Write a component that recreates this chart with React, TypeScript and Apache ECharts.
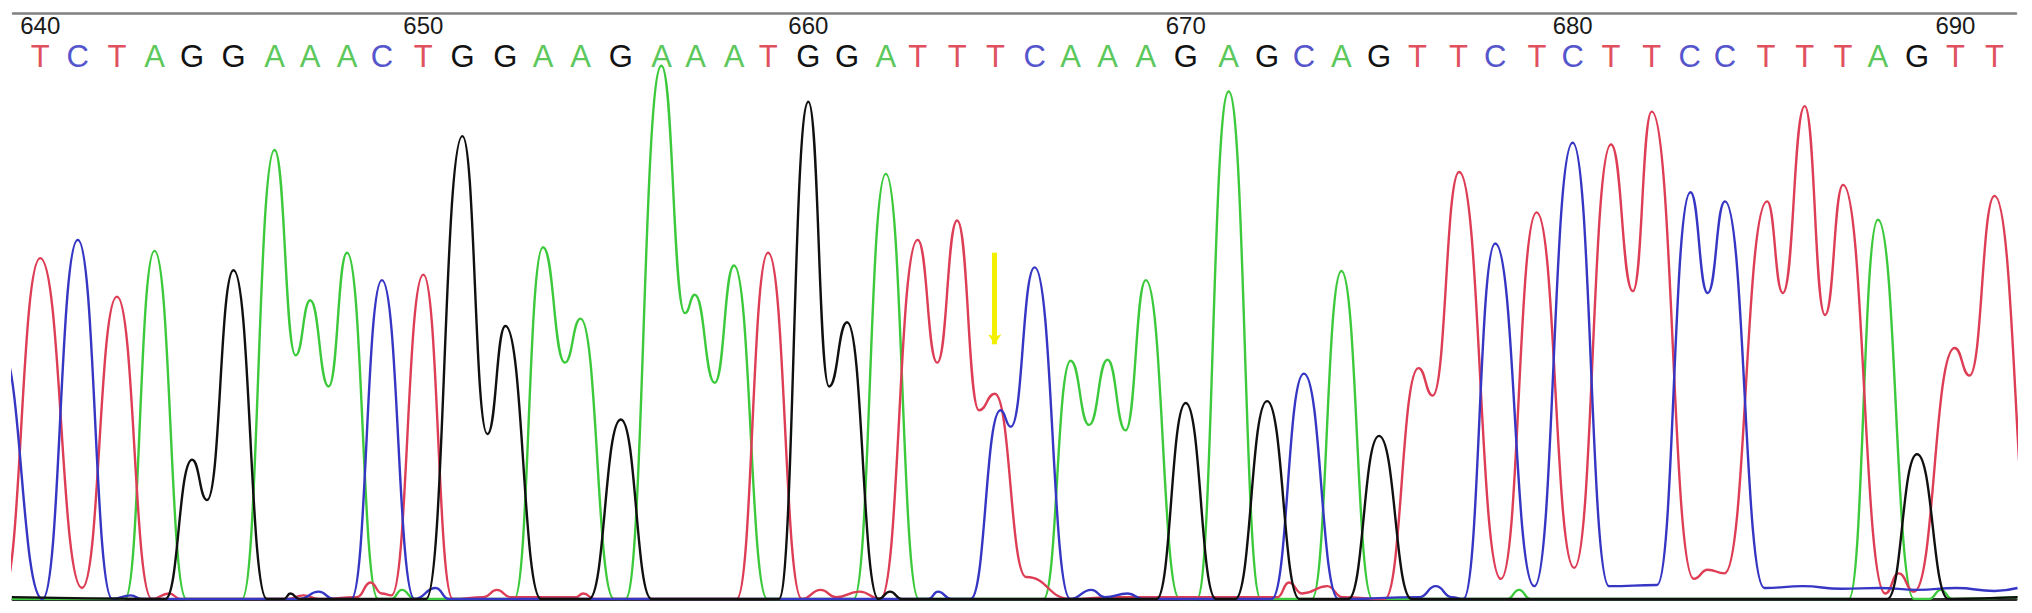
import React, { useEffect, useRef } from 'react';
import * as echarts from 'echarts';

// Called bases 640..691
const bases = [
  'T','C','T','A','G','G','A','A','A','C',
  'T','G','G','A','A','G','A','A','A','T',
  'G','G','A','T','T','T','C','A','A','A',
  'G','A','G','C','A','G','T','T','C','T',
  'C','T','T','C','C','T','T','T','A','G',
  'T','T',
];

// Trace position of each base call (in base units)
const basePositions = [
  640.04, 641.02, 642.04, 643.02, 644.0, 645.08, 646.15, 647.08, 648.04, 648.95,
  650.03, 651.05, 652.17, 653.15, 654.13, 655.18, 656.24, 657.13, 658.13, 659.02,
  660.07, 661.08, 662.09, 662.92, 663.95, 664.95, 665.97, 666.91, 667.87, 668.87,
  669.91, 671.03, 672.03, 672.99, 673.97, 674.95, 675.95, 677.02, 677.98, 679.07,
  680.0, 681.0, 682.06, 683.05, 683.97, 685.04, 686.05, 687.05, 687.96, 688.98,
  689.98, 691.0,
];

const positionLabels = ['640', '650', '660', '670', '680', '690'];
const positionLabelBaseIdx = [0, 10, 20, 30, 40, 50];

// Fluorescence traces: [position, intensity] at read extrema (peaks, valleys, baseline)
const traceT = [
  [638.4, 60], [639.05, 10], [640.04, 930], [641.13, 30], [642.04, 825], [642.95, 0], [643.4, 15], [643.7, 0],
  [646.5, 0], [646.9, 10], [647.3, 0], [648.3, 5], [648.65, 45], [648.95, 15],
  [649.2, 10], [650.03, 885], [650.8, 0], [651.6, 5], [651.95, 25], [652.3, 5],
  [654.0, 5], [654.2, 15], [654.5, 0], [658.2, 0], [659.02, 945], [659.9, 0],
  [660.39, 25], [660.8, 5], [661.4, 20], [661.95, 0], [662.92, 980], [663.43, 645],
  [663.95, 1033], [664.52, 515], [664.93, 560], [665.75, 60], [666.9, 0], [668.0, 5],
  [672.3, 5], [672.6, 45], [672.95, 15], [673.6, 35], [674.0, 5], [675.1, 0],
  [675.98, 630], [676.35, 555], [677.04, 1165], [678.13, 55], [679.06, 1055], [680.04, 85],
  [681.0, 1240], [681.57, 840], [682.06, 1330], [683.16, 55], [683.52, 80], [683.96, 70],
  [685.07, 1085], [685.48, 835], [686.05, 1345], [686.58, 775], [687.05, 1130],
  [688.15, 15], [688.5, 70], [688.9, 20], [689.96, 685], [690.35, 610], [691.0, 1100],
  [692.1, 0], [692.8, 0],
];

const traceC = [
  [638.2, 0], [639.0, 690], [640.1, 0], [641.02, 980], [641.92, 0], [642.4, 10], [642.7, 0],
  [646.8, 0], [647.3, 20], [647.7, 0], [648.15, 0], [648.95, 870], [649.8, 0],
  [650.35, 30], [650.7, 0], [663.2, 0], [663.45, 20], [663.8, 0], [664.3, 0],
  [665.08, 515], [665.35, 470], [665.97, 905], [666.9, 0], [667.45, 25], [667.8, 5],
  [668.4, 15], [668.8, 0], [672.15, 0], [672.99, 615], [673.9, 0], [676.0, 5],
  [676.43, 35], [676.85, 5], [677.15, 0], [677.98, 970], [679.0, 35], [680.0, 1245],
  [680.95, 35], [682.2, 38], [683.07, 1110], [683.52, 835], [683.97, 1085], [685.0, 30],
  [686.0, 35], [687.0, 28], [688.0, 30], [689.0, 25], [690.0, 30], [691.0, 22], [691.6, 30],
];

const traceA = [
  [639.3, 0], [642.25, 0], [643.02, 950], [643.85, 0], [645.3, 0], [646.15, 1225],
  [646.7, 665], [647.08, 815], [647.56, 580], [648.04, 945], [648.85, 0], [649.2, 0],
  [649.47, 25], [649.8, 0], [652.4, 0], [653.15, 960], [653.72, 645], [654.13, 765],
  [655.0, 0], [655.3, 0], [656.24, 1455], [656.85, 780], [657.11, 830], [657.63, 590],
  [658.13, 910], [659.0, 0], [661.25, 0], [662.09, 1160], [662.95, 0], [666.2, 0],
  [666.91, 650], [667.39, 475], [667.87, 653], [668.34, 460], [668.87, 870], [669.75, 0],
  [670.2, 0], [671.03, 1385], [671.87, 0], [673.2, 0], [673.97, 895], [674.78, 0],
  [678.3, 0], [678.6, 25], [678.9, 0], [687.2, 0], [687.96, 1035], [688.9, 0],
  [689.3, 0], [689.6, 25], [689.9, 0], [691.6, 5],
];

const traceG = [
  [639.3, 5], [643.3, 0], [644.0, 380], [644.39, 270], [645.08, 897], [645.95, 0],
  [646.4, 0], [646.56, 15], [646.8, 0], [650.1, 0], [651.05, 1263], [651.7, 450],
  [652.17, 745], [653.1, 0], [654.35, 0], [655.18, 490], [655.98, 0], [659.3, 0],
  [660.07, 1357], [660.61, 580], [661.08, 755], [661.9, 0], [662.2, 20], [662.5, 0],
  [669.15, 0], [669.91, 535], [670.7, 0], [671.2, 0], [672.03, 540], [672.88, 0],
  [674.15, 0], [674.95, 445], [675.8, 0], [688.2, 0], [688.98, 395], [689.8, 0], [691.6, 5],
];

// Mutation marker (yellow arrow) at base 665
const markerPos = 664.93;
const markerTop = 945;
const markerTip = 695;

const X_MIN = 639.33;
const X_MAX = 691.56;
const Y_MAX = 1599;

const FONT = '"Liberation Sans", Arial, Helvetica, sans-serif';
const COLORS = { A: '#3cc93c', C: '#3636c4', G: '#101010', T: '#dd3d55' };
const LETTER_COLORS = { A: '#5cc85c', C: '#5555cc', G: '#121212', T: '#e0505e' };

export default function App() {
  const ref = useRef<HTMLDivElement>(null);

  useEffect(() => {
    document.body.style.margin = '0';
    const chart = echarts.init(ref.current as HTMLDivElement, null, { renderer: 'svg' });

    const nearest = (arr: number[], v: number) => {
      let best = 0;
      for (let i = 1; i < arr.length; i++) {
        if (Math.abs(arr[i] - v) < Math.abs(arr[best] - v)) best = i;
      }
      return best;
    };
    const numberPositions = positionLabelBaseIdx.map((i) => basePositions[i]);

    const traceSeries = (name: string, data: number[][], color: string, z: number) => ({
      name,
      type: 'line',
      data,
      xAxisIndex: 0,
      yAxisIndex: 0,
      showSymbol: false,
      symbol: 'none',
      smooth: 0.5,
      smoothMonotone: 'x',
      lineStyle: { color, width: 2.4 },
      z,
      silent: true,
    });

    const rich: any = {};
    (['A', 'C', 'G', 'T'] as const).forEach((b) => {
      rich[b] = { color: LETTER_COLORS[b], fontSize: 31, lineHeight: 24, fontFamily: FONT };
    });

    const option: any = {
      animation: false,
      backgroundColor: '#ffffff',
      grid: { left: 13, right: 16, top: 13, bottom: 14, containLabel: false },
      xAxis: [
        {
          type: 'value', position: 'bottom', min: X_MIN, max: X_MAX,
          axisLine: { show: true, lineStyle: { color: '#2b2b2b', width: 3 } },
          axisTick: { show: false }, axisLabel: { show: false }, splitLine: { show: false },
        },
        {
          type: 'value', position: 'top', min: X_MIN, max: X_MAX,
          axisLine: { show: true, lineStyle: { color: '#808080', width: 2.5 } },
          axisTick: { show: false }, splitLine: { show: false },
          axisLabel: {
            show: true, inside: true, margin: 0, customValues: numberPositions,
            showMinLabel: true, showMaxLabel: true,
            formatter: (v: number) => positionLabels[nearest(numberPositions, v)],
            color: '#1a1a1a', fontSize: 24, lineHeight: 24, fontFamily: FONT,
          },
        },
        {
          type: 'value', position: 'top', min: X_MIN, max: X_MAX,
          axisLine: { show: false }, axisTick: { show: false }, splitLine: { show: false },
          axisLabel: {
            show: true, inside: true, margin: 31, customValues: basePositions,
            showMinLabel: true, showMaxLabel: true, lineHeight: 24,
            formatter: (v: number) => {
              const b = bases[nearest(basePositions, v)];
              return `{${b}|${b}}`;
            },
            rich,
          },
        },
      ],
      yAxis: { type: 'value', min: 0, max: Y_MAX, show: false },
      series: [
        traceSeries('A', traceA, COLORS.A, 2),
        traceSeries('T', traceT, COLORS.T, 3),
        traceSeries('C', traceC, COLORS.C, 4),
        traceSeries('G', traceG, COLORS.G, 5),
        {
          name: 'marker', type: 'line', data: [], xAxisIndex: 0, yAxisIndex: 0, z: 6,
          markLine: {
            silent: true, animation: false,
            symbol: ['none', 'arrow'], symbolSize: 10,
            label: { show: false },
            lineStyle: { color: '#f3ef00', width: 5, type: 'solid' },
            data: [[{ coord: [markerPos, markerTop] }, { coord: [markerPos, markerTip] }]],
          },
        },
      ],
    };

    chart.setOption(option);
    return () => chart.dispose();
  }, []);

  return (
    <div
      ref={ref}
      style={{ position: 'absolute', left: 0, top: 0, width: 2032, height: 613, background: '#fff' }}
    />
  );
}
